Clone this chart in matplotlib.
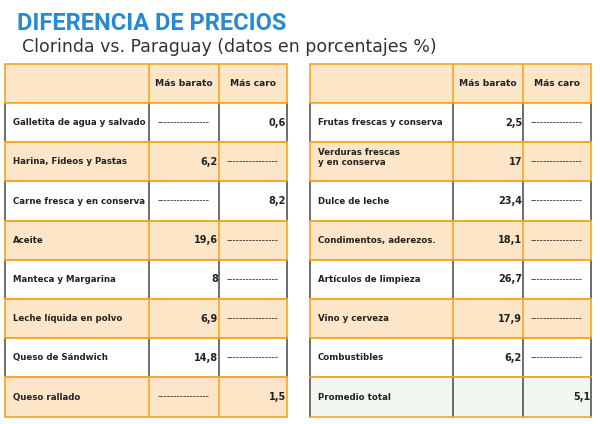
import matplotlib.pyplot as plt
from matplotlib.patches import Rectangle

left_items = ["Galletita de agua y salvado", "Harina, Fideos y Pastas", "Carne fresca y en conserva",
              "Aceite", "Manteca y Margarina", "Leche líquida en polvo", "Queso de Sándwich", "Queso rallado"]
left_barato = [None, "6,2", None, "19,6", "8", "6,9", "14,8", None]
left_caro = ["0,6", None, "8,2", None, None, None, None, "1,5"]

right_items = ["Frutas frescas y conserva", "Verduras frescas\ny en conserva", "Dulce de leche",
               "Condimentos, aderezos.", "Artículos de limpieza", "Vino y cerveza", "Combustibles", "Promedio total"]
right_barato = ["2,5", "17", "23,4", "18,1", "26,7", "17,9", "6,2", ""]
right_caro = [None, None, None, None, None, None, None, "5,1"]

ORANGE = "#f5a623"
SHADE = "#fde6c8"
GREEN = "#f2f8f0"
DASH = "-" * 16

fig = plt.figure(figsize=(6, 4.24), dpi=100)
ax = fig.add_axes([0, 0, 1, 1])
ax.set_xlim(0, 600)
ax.set_ylim(424, 0)
ax.axis("off")

ax.text(17, 24, "DIFERENCIA DE PRECIOS", color="#2a8ad0", fontsize=17, fontweight="bold",
        va="center", family="Roboto")
ax.text(22, 47, "Clorinda vs. Paraguay (datos en porcentajes %)", color="#333333", fontsize=12.5,
        va="center", family="DejaVu Sans")


def draw_table(x0, cols, items, barato, caro, last_green=False):
    top, head_h, row_h = 64, 39, 39.2
    x1 = x0 + cols[0]
    x2 = x1 + cols[1]
    x3 = x2 + cols[2]
    ax.add_patch(Rectangle((x0, top), x3 - x0, head_h, facecolor=SHADE, edgecolor=ORANGE, lw=1.2))
    ax.text((x1 + x2) / 2, top + head_h / 2, "Más barato", ha="center", va="center",
            fontsize=6.6, fontweight="bold", color="#222222")
    ax.text((x2 + x3) / 2, top + head_h / 2, "Más caro", ha="center", va="center",
            fontsize=6.6, fontweight="bold", color="#222222")
    for xv in (x1, x2):
        ax.plot([xv, xv], [top, top + head_h], color=ORANGE, lw=1.2)
    for i, name in enumerate(items):
        y = top + head_h + i * row_h
        if last_green and i == len(items) - 1:
            fc = GREEN
        elif i % 2 == 1:
            fc = SHADE
        else:
            fc = "white"
        ax.add_patch(Rectangle((x0, y), x3 - x0, row_h, facecolor=fc, edgecolor="none"))
        vcol = ORANGE if fc == SHADE else "#555555"
        for xv in (x0, x1, x2, x3):
            ax.plot([xv, xv], [y, y + row_h], color=vcol, lw=1.2)
        ax.plot([x0, x3], [y, y], color=ORANGE, lw=1.2)
        ax.plot([x0, x3], [y + row_h, y + row_h], color=ORANGE, lw=1.2)
        ty = y + row_h / 2 - (4 if "\n" in name else 0)
        ax.text(x0 + 8, ty, name, ha="left", va="center", fontsize=6.2,
                fontweight="bold", color="#222222", linespacing=1.2)
        for val, xl, xr in ((barato[i], x1, x2), (caro[i], x2, x3)):
            if val is None:
                ax.text((xl + xr) / 2, y + row_h / 2, DASH, ha="center", va="center",
                        fontsize=6.5, color="#222222")
            elif val:
                ax.text(xr - 1, y + row_h / 2, val, ha="right", va="center",
                        fontsize=7, fontweight="bold", color="#222222")


draw_table(5, [144, 70, 68], left_items, left_barato, left_caro)
draw_table(310, [143, 70, 68], right_items, right_barato, right_caro, last_green=True)

fig.savefig("out.png", dpi=100)
